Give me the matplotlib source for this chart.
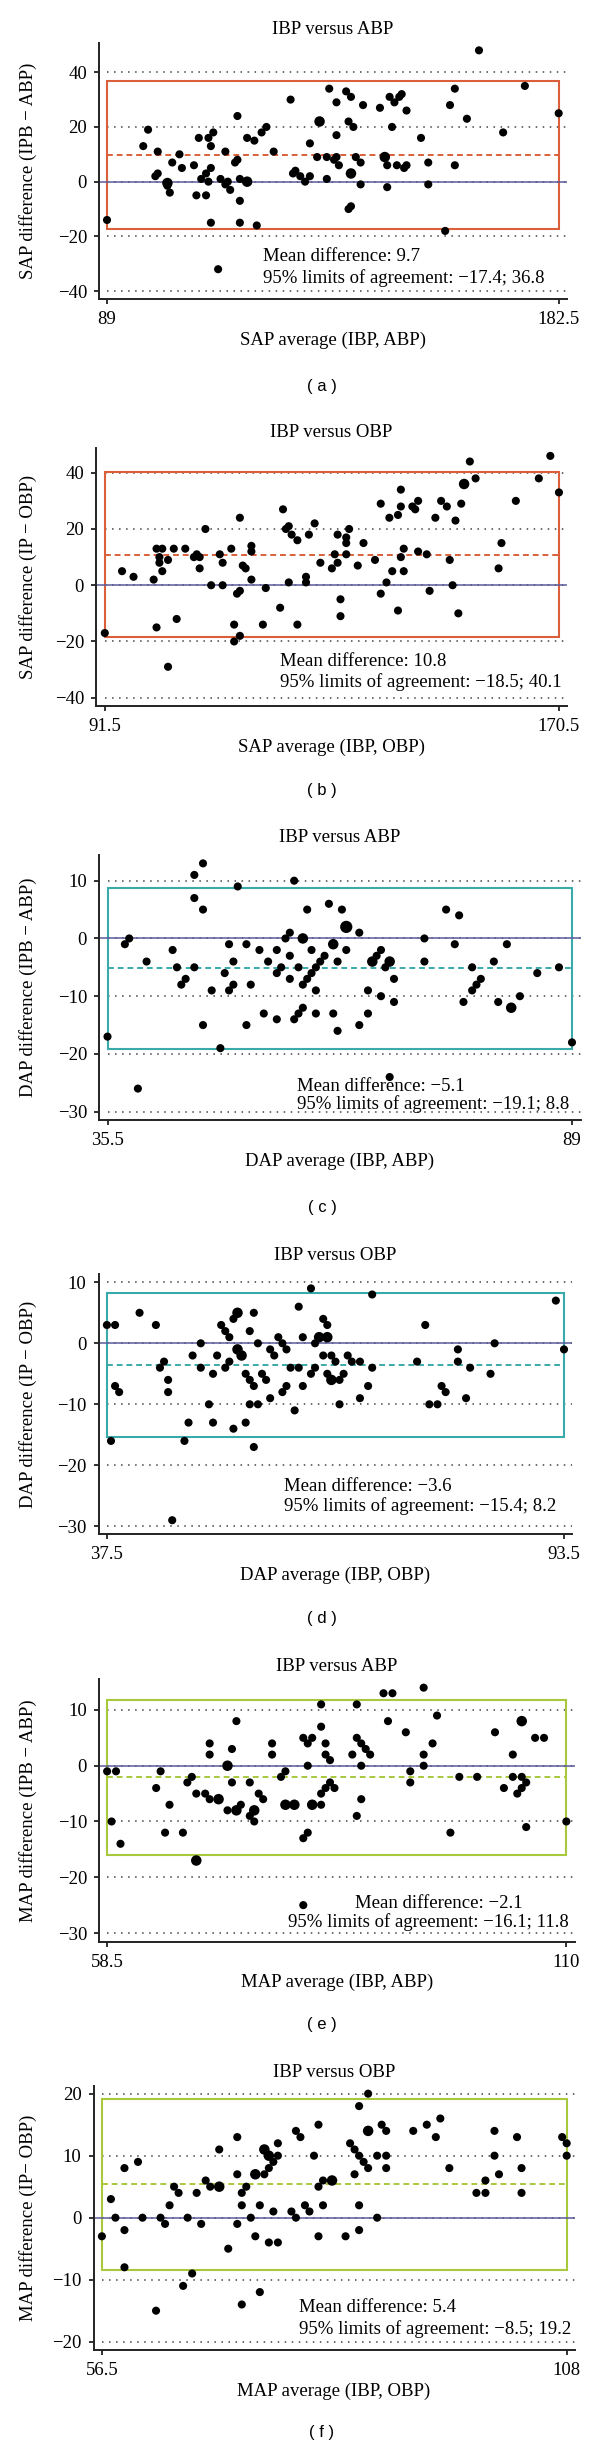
import numpy as np
import pandas as pd
import matplotlib
matplotlib.use('Agg')
import matplotlib.pyplot as plt
from matplotlib.patches import Rectangle

plt.rcParams['font.family'] = ['Liberation Serif', 'DejaVu Serif']

sap_abp_avg = [89, 96.5, 97.5, 99, 99.5, 99.5, 101.5, 101.5, 101.5, 102, 102.5, 104, 104.5, 107, 107.5,
               108, 108.5, 109.5, 109.5, 110, 110, 110.5, 110.5, 110.5, 111, 112, 112.5, 113.5, 113.5,
               114, 114.5, 115.5, 116, 116, 116.5, 116.5, 116.5, 118, 118, 118, 119.5, 120, 121, 122,
               123.5, 127, 127.5, 128, 129, 130, 131, 131, 132.5, 133, 133, 134.5, 134.5, 135, 136,
               136.5, 136.5, 136.5, 137, 138.5, 139, 139.5, 139, 139.5, 139.5, 139.5, 140, 140.5, 141.5,
               141.5, 142, 145.5, 146.5, 146.5, 147, 147, 147.5, 148, 148.5, 149, 149.5, 150, 150.5,
               151, 151, 154, 155.5, 155.5, 159, 160, 161, 161, 163.5, 166, 171, 175.5, 182.5]
sap_abp_diff = [-14, 13, 19, 2, 3, 11, -0.5, -0.5, -1.5, -4, 7, 10, 5, 6, -5,
                16, 1, 3, -5, 16, 0, 13, 5, -15, 18, -32, 1, 11, -1,
                0, -3, 7, 8, 24, 1, -7, -15, 0, 0, 16, 15, -16, 18, 20,
                11, 30, 3, 4, 2, 0, 14, 2, 9, 22, 22, 1, 9, 34, 8,
                9, 29, 17, 6, 33, -10, -9, 22, 3, 3, 31, 20, 9, 7,
                -1, 28, 27, 9, 9, 6, -2, 31, 20, 29, 6, 31, 32, 5,
                6, 26, 16, 7, -1, -18, 28, 34, 6, 23, 48, 18, 35, 25]

sap_obp_avg = [91.5, 94.5, 96.5, 100, 100.5, 100.5, 101, 101, 101.5, 101.5, 102.5, 102.5, 103.5, 104,
               105.5, 107, 107.5, 108, 108, 109, 110, 111.5, 112, 112, 113.5, 114, 114, 114.5, 115,
               115, 115, 115.5, 116, 117, 117, 117, 119, 119.5, 122, 122.5, 123, 123.5, 123.5, 124,
               125, 125, 126.5, 126.5, 127, 128, 129, 131, 131.5, 132, 132, 132.5, 132.5, 133.5,
               133.5, 133.5, 134, 135.5, 136.5, 138.5, 139.5, 139.5, 140.5, 141, 141.5, 142.5, 142.5,
               143, 143, 143, 143.5, 143.5, 145, 145.5, 146, 146, 147.5, 148, 149, 150, 151, 151.5,
               152, 152.5, 153, 153.5, 154, 154, 155, 156, 160, 160.5, 163, 167, 169, 170.5]
sap_obp_diff = [-17, 5, 3, 2, 13, -15, 10, 8, 5, 13, 9, -29, 13, -12,
                13, 10, 11, 10, 6, 20, 0, 11, 8, 0, 13, -14, -20, -3, -2,
                24, -18, 7, 6, 14, 12, 2, -14, -1, -8, 27, 20, 21, 1, 18,
                16, -14, 3, 1, 18, 22, 8, 6, 11, 18, 8, -5, -11, 17,
                15, 11, 20, 7, 15, 9, 29, -3, 1, 24, 5, 25, -9,
                34, 28, 10, 13, 5, 28, 27, 30, 12, 11, -2, 24, 30, 28, 9,
                0, 23, -10, 29, 36, 36, 44, 38, 6, 15, 30, 38, 46, 33]

dap_abp_avg = [35.5, 37.5, 38, 39, 40, 43, 43.5, 44, 44.5, 45.5, 45.5, 45.5, 46.5, 46.5, 46.5, 47.5,
               48.5, 49, 49.5, 49.5, 50, 50, 50.5, 51.5, 51.5, 52, 53, 53.5, 54, 55, 55, 55, 55.5, 56,
               56.5, 56.5, 56.5, 57, 57, 57.5, 57.5, 58, 58, 58, 58, 58.5, 58.5, 59, 59, 59.5, 59.5,
               59.5, 60, 60.5, 61, 61.5, 61.5, 61.5, 62, 62, 62.5, 63, 63, 63, 63, 64.5, 64.5, 65.5,
               65.5, 66, 66, 66.5, 67, 67, 67.5, 68, 68, 68, 68.5, 68.5, 72, 72, 74.5, 75.5, 76, 76.5,
               77.5, 77.5, 78, 78.5, 80, 80.5, 81.5, 82, 82, 83, 85, 87.5, 89]
dap_abp_diff = [-17, -1, 0, -26, -4, -2, -5, -8, -7, 11, 7, -5, 13, 5, -15, -9,
                -19, -6, -1, -9, -4, -8, 9, -1, -15, -8, -2, -13, -4, -2, -6, -14, -5, 0,
                1, -3, -7, 10, -14, -5, -13, 0, 0, -8, -12, 5, -7, -2, -6, -5, -9,
                -13, -4, -3, 6, -1, -1, -13, -4, -16, 5, 2, 2, 2, -2, 1, -15, -9,
                -13, -4, -4, -3, -2, -10, -5, -4, -4, -24, -7, -11, 0, -4, 5, -1, 4, -11,
                -5, -9, -8, -7, -4, -11, -1, -12, -12, -10, -6, -5, -18]

dap_obp_avg = [37.5, 38, 38.5, 38.5, 39, 41.5, 43.5, 44, 44.5, 45, 45, 45.5, 47, 47.5, 48, 49, 49,
               50, 50.5, 50.5, 51, 51.5, 52, 52, 52.5, 52.5, 53, 53, 53.5, 53.5, 53.5, 53.5, 54, 54,
               54.5, 54.5, 55, 55, 55, 55.5, 55.5, 55.5, 56, 56, 56.5, 57, 57.5, 57.5, 58, 58.5, 59,
               59, 59.5, 59.5, 60, 60.5, 61, 61, 61.5, 61.5, 62.5, 62.5, 63, 63, 63.5, 63.5, 64, 64,
               64.5, 64.5, 64.5, 64.5, 65, 65, 65, 65.5, 66, 66, 66.5, 67, 67.5, 68.5, 68.5, 69.5,
               70, 70, 75.5, 76.5, 77, 78, 78.5, 79, 80.5, 80.5, 81.5, 82, 84.5, 85, 92.5, 93.5]
dap_obp_diff = [3, -16, 3, -7, -8, 5, 3, -4, -3, -6, -8, -29, -16, -13, -2, 0, -4,
                -10, -5, -13, -2, 3, 2, -4, 1, -3, 4, -14, 5, 5, -1, -1, -2, -2,
                -5, -13, 2, -6, -10, 5, -7, -17, 0, -10, -5, -6, -1, -9, -2, 1, 0,
                -8, -1, -7, -4, -11, 6, -4, 1, -7, 9, -5, 0, -4, 1, 1, 4, -2,
                3, 1, 1, -5, -2, -6, -6, -3, -6, -10, -5, -2, -3, -3, -9, -7,
                8, -4, -3, 3, -10, -10, -7, -8, -1, -3, -9, -4, -5, 0, 7, -1]

map_abp_avg = [58.5, 59, 59.5, 60, 64, 64.5, 65, 65.5, 67, 67.5, 68, 68.5, 68.5, 68.5, 69.5, 70, 70,
               70, 71, 71, 72, 72, 72, 72.5, 72.5, 73, 73, 73, 73.5, 74.5, 74.5, 75, 75, 75, 75.5,
               76, 77, 77, 78, 78.5, 78.5, 78.5, 79.5, 79.5, 80.5, 80.5, 80.5, 81, 81, 81, 81.5,
               81.5, 81.5, 82.5, 82.5, 82.5, 82.5, 83, 83, 83, 83.5, 83.5, 84, 86, 86.5, 86.5, 86.5,
               87, 87, 87, 87.5, 88, 89.5, 90, 90.5, 92, 92.5, 92.5, 94, 94, 94, 95, 95.5, 97, 98,
               100, 102, 103, 104, 104, 104.5, 105, 105, 105, 105, 105.5, 105.5, 106.5, 107.5, 110]
map_abp_diff = [-1, -10, -1, -14, -4, -1, -12, -7, -12, -3, -2, -5, -17, -17, -5, 4, 2,
                -6, -6, -6, 0, 0, -8, 3, -3, 8, -8, -8, -7, -3, -9, -8, -8, -10, -5,
                -6, 4, 2, -2, -1, -7, -7, -7, -7, 5, -13, -25, 4, 0, -12, 5,
                -7, -7, 11, 7, -5, -7, 4, 2, -4, 1, -3, -4, 2, 11, 5, -9,
                4, 0, -6, 3, 2, 13, 8, 13, 6, -1, -3, 14, 2, 0, 4, 9, -12, -2,
                -2, 6, -4, 2, -2, -5, 8, 8, -2, -4, -3, -11, 5, 5, -10]

map_obp_avg = [56.5, 57.5, 58, 59, 59, 59, 60.5, 61, 62.5, 63, 63.5, 64, 64.5, 65, 65.5, 66, 66.5,
               67, 67.5, 68, 68.5, 69.5, 69.5, 69.5, 70.5, 71.5, 71.5, 71.5, 72, 72, 72, 72.5, 73,
               73.5, 73.5, 73.5, 74, 74, 74.5, 74.5, 74.5, 75, 75, 75, 75, 75.5, 75.5, 76, 76, 76,
               77.5, 78, 78, 78.5, 79, 79.5, 80, 80.5, 80.5, 80.5, 81, 81, 82, 82, 83.5, 84, 84.5,
               84.5, 85, 85, 85, 85, 85.5, 86, 86, 86, 86, 87, 87, 87.5, 88, 88, 88, 91, 92.5, 93.5,
               94, 95, 98, 99, 99, 100, 100, 100.5, 102.5, 103, 103, 107.5, 108, 108]
map_obp_diff = [-3, 3, 0, 8, -2, -8, 9, 0, -15, 0, -1, 2, 5, 4, -11, 0, -9,
                4, -1, 6, 5, 5, 5, 11, -5, 13, 7, -1, 4, 2, -14, 5, 0,
                7, 7, -3, 2, -12, 11, 11, 7, 10, 10, 8, -4, 9, 1, 12, 10, -4,
                1, 14, 0, 13, 2, 1, 10, 15, 5, -3, 6, 2, 6, 6, -3, 12, 11,
                7, 18, 10, 2, -2, 9, 20, 14, 14, 8, 10, 0, 15, 14, 10, 8, 14, 15, 13,
                16, 8, 4, 6, 4, 14, 10, 7, 13, 8, 4, 13, 12, 10]

measures = ['SAP', 'SAP', 'DAP', 'DAP', 'MAP', 'MAP']
refs = ['ABP', 'OBP', 'ABP', 'OBP', 'ABP', 'OBP']
y_labels = ['SAP difference (IPB \u2212 ABP)', 'SAP difference (IP \u2212 OBP)',
            'DAP difference (IPB \u2212 ABP)', 'DAP difference (IP \u2212 OBP)',
            'MAP difference (IPB \u2212 ABP)', 'MAP difference (IP\u2212 OBP)']
mean_diff = [9.7, 10.8, -5.1, -3.6, -2.1, 5.4]
loa_low = [-17.4, -18.5, -19.1, -15.4, -16.1, -8.5]
loa_high = [36.8, 40.1, 8.8, 8.2, 11.8, 19.2]
x_ends = [(89, 182.5), (91.5, 170.5), (35.5, 89), (37.5, 93.5), (58.5, 110), (56.5, 108)]
y_ticks = [[-40, -20, 0, 20, 40], [-40, -20, 0, 20, 40], [-30, -20, -10, 0, 10],
           [-30, -20, -10, 0, 10], [-30, -20, -10, 0, 10], [-20, -10, 0, 10, 20]]
tags = ['a', 'b', 'c', 'd', 'e', 'f']

averages = [sap_abp_avg, sap_obp_avg, dap_abp_avg, dap_obp_avg, map_abp_avg, map_obp_avg]
differences = [sap_abp_diff, sap_obp_diff, dap_abp_diff, dap_obp_diff, map_abp_diff, map_obp_diff]

# ---- layout (pixels) ----
boxes = [(99, 42.7, 566.7, 299.3), (96, 448.3, 567, 706), (99, 855, 580.5, 1120),
         (98.5, 1274, 572, 1534.3), (99, 1679.3, 574.7, 1941.7), (93.5, 2086, 574.7, 2350)]
xlims = [(87.34, 184.16), (89.97, 171.9), (34.52, 89.98), (36.47, 94.48), (57.59, 110.94), (55.57, 108.89)]
ylims = [(-43.0, 50.8), (-42.95, 48.7), (-31.44, 14.45), (-31.31, 11.36), (-31.56, 15.5), (-21.34, 21.24)]
title_y = [30, 432.3, 837.3, 1255, 1666.7, 2072.7]
tag_y = [387, 790, 1208, 1618, 2025, 2433]
note_xy = [((121.2, -27.2), (121.2, -35.4)), ((121.9, -27.1), (121.9, -34.6)),
           ((57.3, -25.6), (57.3, -28.6)), ((59.2, -23.4), (59.2, -26.7)),
           ((86.3, -24.7), (78.8, -28.0)), ((78.3, -14.5), (78.3, -18.0))]
box_colors = ['#d9603b', '#d9603b', '#3aa9a9', '#3aa9a9', '#a8c83e', '#a8c83e']
zero_color = '#5b5b9b'

W, H = 600, 2450
fig = plt.figure(figsize=(6, 24.5), dpi=100)
fs = 13.5

for i in range(6):
    l, t, r, b = boxes[i]
    ax = fig.add_axes([l / W, 1 - b / H, (r - l) / W, (b - t) / H])
    wpx, hpx = r - l, b - t

    df = pd.DataFrame({'avg': averages[i], 'diff': differences[i]})
    pts = df.groupby(['avg', 'diff']).size().reset_index(name='n')

    x0, x1 = x_ends[i]
    col = box_colors[i]
    ax.set_xlim(*xlims[i])
    ax.set_ylim(*ylims[i])

    ax.hlines(y_ticks[i], x0, xlims[i][1], colors='#444444', linestyles=(0, (1, 3.6)), lw=1.1, zorder=1)
    ax.add_patch(Rectangle((x0, loa_low[i]), x1 - x0, loa_high[i] - loa_low[i],
                           fill=False, ec=col, lw=1.5, zorder=2))
    ax.hlines(mean_diff[i], x0, x1, colors=col, linestyles=(0, (3, 2)), lw=1.4, zorder=2)
    ax.axhline(0, color=zero_color, lw=1.1, zorder=2)
    ax.scatter(pts['avg'], pts['diff'], s=34 * pts['n'] ** 0.75, c='black', lw=0, zorder=3)

    mean_txt = f'Mean difference: {mean_diff[i]:g}'.replace('-', '\u2212')
    loa_txt = f'95% limits of agreement: {loa_low[i]:g}; {loa_high[i]:g}'.replace('-', '\u2212')
    (mx, my), (lx, ly) = note_xy[i]
    ax.text(mx, my, mean_txt, fontsize=fs, ha='left', va='center', zorder=4)
    ax.text(lx, ly, loa_txt, fontsize=fs, ha='left', va='center', zorder=4)

    ax.set_xticks([x0, x1])
    ax.set_xticklabels([f'{x0:g}', f'{x1:g}'])
    ax.set_yticks(y_ticks[i])
    ax.tick_params(labelsize=fs, length=3.6, width=1.3, pad=5, color='#222222')
    for s in ['top', 'right']:
        ax.spines[s].set_visible(False)
    for s in ['left', 'bottom']:
        ax.spines[s].set_linewidth(1.4)
        ax.spines[s].set_color('#222222')

    ax.set_xlabel(f'{measures[i]} average (IBP, {refs[i]})', fontsize=fs)
    ax.xaxis.set_label_coords(0.5, -41 / hpx)
    ax.xaxis.label.set_va('center')
    ax.set_ylabel(y_labels[i], fontsize=fs)
    ax.yaxis.set_label_coords(-(l - 28) / wpx, 0.5)
    ax.yaxis.label.set_va('center')

    fig.text((l + r) / 2 / W, 1 - title_y[i] / H, f'IBP versus {refs[i]}', fontsize=fs,
             ha='center', va='center')
    fig.text(322 / W, 1 - tag_y[i] / H, f'( {tags[i]} )', fontsize=12,
             family=['Liberation Sans', 'DejaVu Sans'], ha='center', va='center')

fig.savefig('out.png', dpi=100)
